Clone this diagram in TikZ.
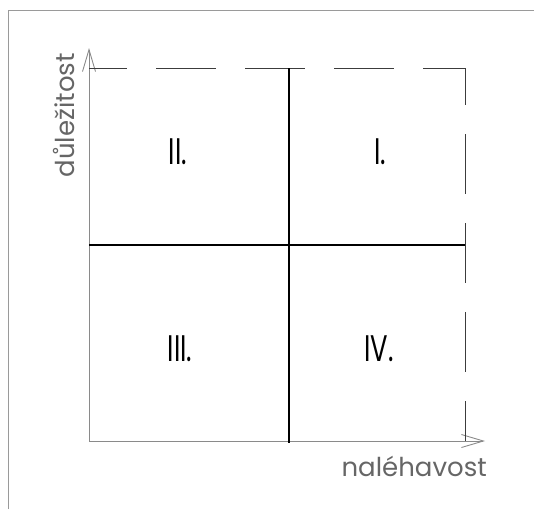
\documentclass[tikz,border=0pt]{standalone}
\usepackage{fontspec}
\setmainfont{Poppins}
\usepackage{xcolor}
\usepackage{tikz}
\usetikzlibrary{arrows.meta,positioning,calc}
\definecolor{framegray}{HTML}{9A9A9A}
\definecolor{axisgray}{HTML}{8A8A8A}
\definecolor{textgray}{HTML}{666666}
\definecolor{dashgray}{HTML}{3C3C3C}
\tikzset{
  quadlabel/.style={font=\fontsize{37}{40}\selectfont,text=black,xscale=0.7,transform shape,inner sep=0pt},
  axislabel/.style={font=\fontsize{26}{28}\selectfont,text=textgray,inner sep=0pt},
  axisarrow/.style={-{Straight Barb[length=22pt,width=13pt,line width=0.9pt]},draw=axisgray,line width=0.9pt},
  boundline/.style={draw=dashgray,line width=1pt,dash pattern=on 60pt off 29pt},
  dividerline/.style={draw=black,line width=2pt},
  framerule/.style={draw=framegray,line width=1pt}
}

\begin{document}
\begin{tikzpicture}[x=1pt,y=-1pt]
  \useasboundingbox (0,0) rectangle (534,509);
  % outer frame
  \draw[framerule] (8,509) -- (8,10) -- (534,10);
  % corners of the matrix
  \coordinate (origin) at (89,441);
  \coordinate (topleft) at (89,68);
  \coordinate (topright) at (465,68);
  \coordinate (botright) at (465,441);
  \coordinate (ytip) at (89,48);
  \coordinate (xtip) at (485,441);
  \coordinate (midtop) at (289,68);
  \coordinate (midbot) at (289,443);
  \coordinate (midleft) at (89,245);
  \coordinate (midright) at (465,245);
  % axes
  \draw[axisarrow] (origin) -- (ytip);
  \draw[axisarrow] (origin) -- (xtip);
  % dashed bounds
  \draw[boundline,dash phase=22pt] (topleft) -- (topright);
  \draw[boundline,dash phase=23pt] (topright) -- (botright);
  % dividers
  \draw[dividerline] (midtop) -- (midbot);
  \draw[dividerline] (midleft) -- (midright);
  % quadrants
  \node[quadlabel] (q2) at (178,152) {II.};
  \node[quadlabel] (q1) at (380,152) {I.};
  \node[quadlabel] (q3) at (180,349) {III.};
  \node[quadlabel] (q4) at (379,349) {IV.};
  % axis labels
  \node[axislabel,anchor=base east] (xlabel) at (487,476) {naléhavost};
  \node[axislabel,anchor=base east,rotate=90] (ylabel) at (74,53) {důležitost};
\end{tikzpicture}
\end{document}
